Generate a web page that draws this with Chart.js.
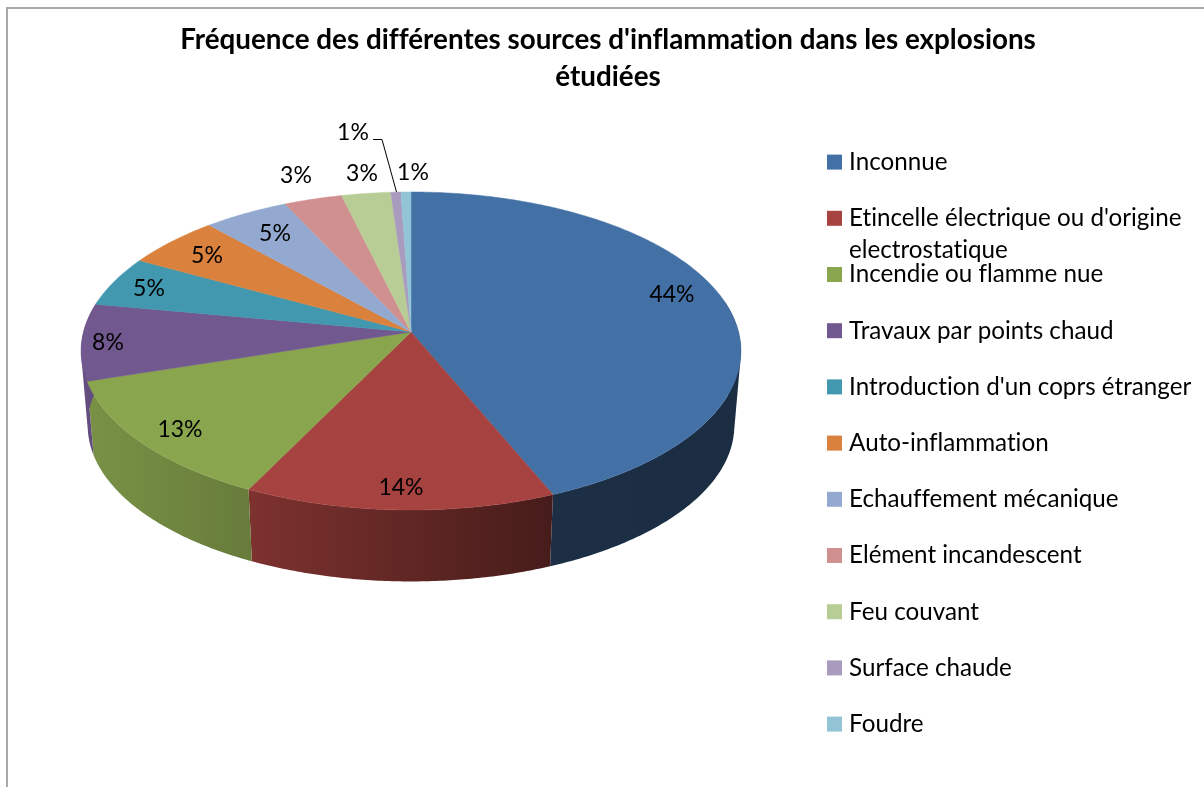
<!DOCTYPE html>
<html lang="fr"><head><meta charset="utf-8">
<style>html,body{margin:0;padding:0;background:#fff}canvas{display:block}</style>
<script src="https://cdn.jsdelivr.net/npm/chart.js@4"></script>
</head><body><canvas id="c" width="1204" height="787"></canvas>
<script>
const titleLines = ["Fréquence des différentes sources d'inflammation dans les explosions", "étudiées"];
const categories = ["Inconnue", "Etincelle électrique ou d'origine electrostatique", "Incendie ou flamme nue", "Travaux par points chaud", "Introduction d'un coprs étranger", "Auto-inflammation", "Echauffement mécanique", "Elément incandescent", "Feu couvant", "Surface chaude", "Foudre"];
const legendFirstLines = ["Inconnue", "Etincelle électrique ou d'origine", "Incendie ou flamme nue", "Travaux par points chaud", "Introduction d'un coprs étranger", "Auto-inflammation", "Echauffement mécanique", "Elément incandescent", "Feu couvant", "Surface chaude", "Foudre"];
const values = [43.7, 13.6, 12.8, 7.8, 5.1, 5.3, 4.7, 3.2, 2.7, 0.55, 0.55];
const colors = ["#4471a5", "#a6423f", "#89a54e", "#71588f", "#4198af", "#d9813d", "#93a9cf", "#d09090", "#b8cd96", "#a99bbd", "#92c4d6"];
const labelPos = [[672,295],[401,488],[180,430],[108,343],[149,289],[207,256],[275,234],[296,176],[362,174],[353,133],[413,173]];

const FONT = "Lato, Carlito, Calibri, sans-serif";
const AX = 2.073, BY = 0.992, K = 0.1195, R = 158;
const DEPTH = 75, SX = 0.98, SY = 0.98;

function proj(arc, a) {
  const u = Math.cos(a), v = Math.sin(a), d = 1 - K * v, r = arc.outerRadius;
  return [arc.x + AX * r * u / d, arc.y + BY * r * v / d];
}
function lower(arc, p) {
  return [arc.x + (p[0] - arc.x) * SX, arc.y + (p[1] - arc.y) * SY + DEPTH];
}
function shade(hex, m) {
  const n = parseInt(hex.slice(1), 16);
  return `rgb(${Math.round((n >> 16 & 255) * m)},${Math.round((n >> 8 & 255) * m)},${Math.round((n & 255) * m)})`;
}
Chart.ArcElement.prototype.draw = function (ctx) {
  const s = this.startAngle, e = this.endAngle, n = Math.max(2, Math.ceil((e - s) / 0.01));
  ctx.save();
  ctx.beginPath();
  ctx.moveTo(this.x, this.y);
  for (let i = 0; i <= n; i++) { const p = proj(this, s + (e - s) * i / n); ctx.lineTo(p[0], p[1]); }
  ctx.closePath();
  ctx.fillStyle = this.options.backgroundColor;
  ctx.strokeStyle = this.options.backgroundColor;
  ctx.lineWidth = 0.5;
  ctx.fill(); ctx.stroke();
  ctx.restore();
};
const walls = {
  id: 'walls',
  beforeDatasetsDraw(chart) {
    const ctx = chart.ctx, meta = chart.getDatasetMeta(0);
    meta.data.forEach((arc, i) => {
      const g = ctx.createLinearGradient(81, 0, 741, 0), c = colors[i];
      g.addColorStop(0, shade(c, 0.90));
      g.addColorStop((90 - 81) / 660, shade(c, 0.88));
      g.addColorStop((250 - 81) / 660, shade(c, 0.75));
      g.addColorStop((552 - 81) / 660, shade(c, 0.42));
      g.addColorStop(1, shade(c, 0.40));
      ctx.save();
      ctx.fillStyle = g;
      const s = arc.startAngle, e = arc.endAngle, n = Math.max(2, Math.ceil((e - s) / 0.01));
      ctx.beginPath();
      for (let j = 0; j < n; j++) {
        const a = s + (e - s) * j / n, b = s + (e - s) * (j + 1) / n;
        if (Math.sin(a) < -0.2 && Math.sin(b) < -0.2) continue;
        const p = proj(arc, a), q = proj(arc, b), pl = lower(arc, p), ql = lower(arc, q);
        const quad = [p, q, ql, pl];
        let area = 0;
        quad.forEach((m, k) => { const o = quad[(k + 1) % 4]; area += m[0] * o[1] - o[0] * m[1]; });
        if (area < 0) quad.reverse();
        quad.forEach((m, k) => k ? ctx.lineTo(m[0], m[1]) : ctx.moveTo(m[0], m[1]));
        ctx.closePath();
      }
      ctx.fill('nonzero');
      ctx.restore();
    });
  }
};
const frame = {
  id: 'frame',
  beforeDraw(chart) {
    const ctx = chart.ctx;
    ctx.textRendering = 'optimizeSpeed';
    ctx.save(); ctx.strokeStyle = '#a9a9a9'; ctx.lineWidth = 2;
    ctx.beginPath(); ctx.moveTo(7, 787); ctx.lineTo(7, 8); ctx.lineTo(1204, 8); ctx.stroke();
    ctx.restore();
  }
};
const place = {
  id: 'place',
  afterLayout(chart) {
    const a = chart.chartArea;
    a.left = 5; a.right = 817; a.top = 100; a.bottom = 564; a.width = 812; a.height = 464;
    const l = chart.legend;
    l.left = 800; l.right = 1204; l.width = 404; l.top = 118; l.bottom = 787; l.height = 669;
    const t = chart.titleBlock;
    t.left = 12; t.right = 1204; t.width = 1192; t.top = 22; t.bottom = 92; t.height = 70;
  }
};
const texts = {
  id: 'texts',
  afterDatasetsDraw(chart) {
    const ctx = chart.ctx, total = values.reduce((x, y) => x + y, 0);
    ctx.save();
    ctx.fillStyle = '#000'; ctx.textAlign = 'center'; ctx.textBaseline = 'middle';
    ctx.font = `23px ${FONT}`;
    values.forEach((v, i) => ctx.fillText(Math.round(v / total * 100) + '%', labelPos[i][0], labelPos[i][1]));
    ctx.textAlign = 'left';
    ctx.font = `24.2px ${FONT}`;
    ctx.fillText('electrostatique', 849, 250);
    ctx.strokeStyle = '#000'; ctx.lineWidth = 1;
    ctx.beginPath(); ctx.moveTo(373, 139.5); ctx.lineTo(382, 139.5); ctx.lineTo(396.5, 192); ctx.stroke();
    ctx.restore();
  }
};
new Chart(document.getElementById('c'), {
  type: 'pie',
  data: { labels: categories, datasets: [{ data: values, backgroundColor: colors, borderWidth: 0, radius: R, clip: false }] },
  plugins: [frame, place, walls, texts],
  options: {
    responsive: false, animation: false,
    plugins: {
      tooltip: { enabled: false },
      title: { display: true, text: titleLines, color: '#000', font: { family: FONT, size: 27.8, weight: 'bold', lineHeight: 1.33 }, padding: 0 },
      legend: {
        position: 'right', align: 'start',
        labels: {
          color: '#000', font: { family: FONT, size: 24.2 }, boxWidth: 5, boxHeight: 5, padding: 32,
          generateLabels: () => legendFirstLines.map((t, i) => ({ text: t, fillStyle: colors[i], strokeStyle: colors[i], lineWidth: 10, hidden: false, index: i, lineJoin: 'miter' }))
        }
      }
    }
  }
});
</script></body></html>
